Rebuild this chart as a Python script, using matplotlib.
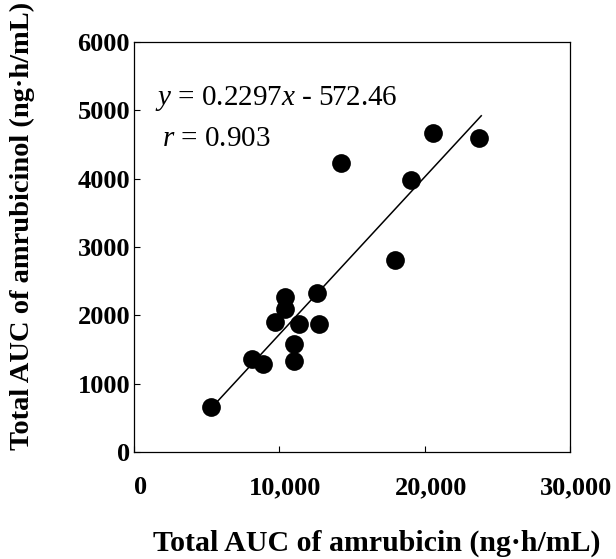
import matplotlib
matplotlib.use("Agg")
import matplotlib.pyplot as plt
import matplotlib.transforms as mtransforms
import numpy as np

# Data
auc_amrubicin = [5290, 8100, 8900, 9700, 10350, 10350, 11380, 11010, 11010,
                 12620, 12740, 14230, 17930, 19080, 20550, 23720]
auc_amrubicinol = [666, 1362, 1289, 1898, 2263, 2088, 1873, 1581, 1337,
                   2321, 1869, 4228, 2807, 3985, 4666, 4593]
slope = 0.2297
intercept = -572.46
line_x = [5290, 23900]
x_ticks = [0, 10000, 20000, 30000]
x_ticklabels = ["0", "10,000", "20,000", "30,000"]
y_ticks = [0, 1000, 2000, 3000, 4000, 5000, 6000]
y_ticklabels = ["0", "1000", "2000", "3000", "4000", "5000", "6000"]

plt.rcParams['mathtext.fontset'] = 'custom'
plt.rcParams['mathtext.rm'] = 'Liberation Serif'
plt.rcParams['mathtext.it'] = 'Liberation Serif:italic'

fig = plt.figure(figsize=(6.16, 5.59), dpi=100)
ax = fig.add_axes([0.218, 0.1909, 0.707, 0.7345])

ax.scatter(auc_amrubicin, auc_amrubicinol, s=13.5**2, color='black', zorder=3, linewidths=0)
lx = np.array(line_x)
ax.plot(lx, slope * lx + intercept, color='black', lw=1.1, zorder=2)

ax.set_xlim(0, 30000)
ax.set_ylim(0, 6000)
ax.set_xticks(x_ticks)
ax.set_xticklabels([])
ax.set_yticks(y_ticks)
ax.set_yticklabels(y_ticklabels)

bold = dict(family='Liberation Serif', weight='bold')
for lab in ax.get_yticklabels():
    lab.set_fontfamily('Liberation Serif')
    lab.set_fontweight('bold')
    lab.set_fontsize(19)

# x tick labels, slightly offset to the right as in the reference
offset = mtransforms.ScaledTranslation(6 / 100, -17 / 72 - 4.5 / 72 * 0, fig.dpi_scale_trans)
xtrans = ax.get_xaxis_transform() + offset
for xv, lbl in zip(x_ticks, x_ticklabels):
    ax.text(xv, 0, lbl, transform=xtrans, ha='center', va='top',
            fontsize=19, clip_on=False, **bold)

ax.tick_params(axis='both', direction='in', length=4.5, width=0.8, color='black')
ax.tick_params(axis='y', pad=3)
for s in ax.spines.values():
    s.set_linewidth(0.9)
    s.set_color('black')

ax.set_xlabel("Total AUC of amrubicin (ng\u00b7h/mL)", fontsize=21.5, va='baseline', **bold)
ax.xaxis.set_label_coords(0.557, -0.2385)
ax.set_ylabel("Total AUC of amrubicinol (ng\u00b7h/mL)", fontsize=20.5, va='center', **bold)
ax.yaxis.set_label_coords(-0.258, 0.551)

ax.text(0.0475, 0.8458, r"$y$ = 0.2297$x$ - 572.46", transform=ax.transAxes,
        fontsize=21, family='Liberation Serif', va='baseline', ha='left')
ax.text(0.063, 0.7448, r"$r$ = 0.903", transform=ax.transAxes,
        fontsize=21, family='Liberation Serif', va='baseline', ha='left')

fig.savefig("out.png", dpi=100)
